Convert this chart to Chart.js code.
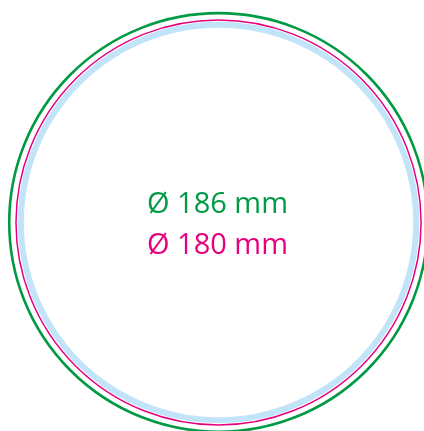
<!DOCTYPE html>
<html>
<head>
<meta charset="utf-8">
<style>
  html, body { margin: 0; padding: 0; background: #fff; overflow: hidden; }
  #wrap { width: 424px; height: 431px; position: relative; }
</style>
<script src="https://cdn.jsdelivr.net/npm/chart.js@4/dist/chart.umd.min.js"></script>
</head>
<body>
<div id="wrap"><canvas id="chart"></canvas></div>
<script>
// diameters in mm, as labelled in the drawing
const circleLabels = ['Ø 186 mm', 'Ø 180 mm'];
const diameters = [186, 180];
const circleColors = ['#009A44', '#E5007E'];
const lineWidths = [2.6, 1.5];

// light blue safety band (inner / outer diameter, mm)
const bandDiameters = [173, 178.4];
const bandColor = '#C2E4F9';

// visible window in mm around the centre
const xRange = [-97.1, 91.3];
const yRange = [-92.7, 98.9];

const circlesPlugin = {
  id: 'circles',
  afterDatasetsDraw(chart) {
    const { ctx, scales: { x, y } } = chart;
    const cx = x.getPixelForValue(0);
    const cy = y.getPixelForValue(0);
    const rad = d => x.getPixelForValue(d / 2) - cx;

    ctx.save();
    // blue band
    ctx.beginPath();
    ctx.arc(cx, cy, rad(bandDiameters[1]), 0, Math.PI * 2);
    ctx.arc(cx, cy, rad(bandDiameters[0]), 0, Math.PI * 2, true);
    ctx.fillStyle = bandColor;
    ctx.fill('evenodd');

    // outline circles
    diameters.forEach((d, i) => {
      ctx.beginPath();
      ctx.arc(cx, cy, rad(d), 0, Math.PI * 2);
      ctx.strokeStyle = circleColors[i];
      ctx.lineWidth = lineWidths[i];
      ctx.stroke();
    });

    // labels
    ctx.font = '29px "Open Sans", sans-serif';
    ctx.textAlign = 'center';
    ctx.textBaseline = 'alphabetic';
    circleLabels.forEach((t, i) => {
      ctx.fillStyle = circleColors[i];
      ctx.fillText(t, cx - 1, cy - 9.5 + i * 41);
    });
    ctx.restore();
  }
};

new Chart(document.getElementById('chart'), {
  type: 'scatter',
  data: { datasets: [] },
  options: {
    responsive: true,
    maintainAspectRatio: false,
    animation: false,
    layout: { padding: 0 },
    plugins: { legend: { display: false }, tooltip: { enabled: false } },
    scales: {
      x: { type: 'linear', display: false, min: xRange[0], max: xRange[1] },
      y: { type: 'linear', display: false, min: yRange[0], max: yRange[1] }
    }
  },
  plugins: [circlesPlugin]
});
</script>
</body>
</html>
